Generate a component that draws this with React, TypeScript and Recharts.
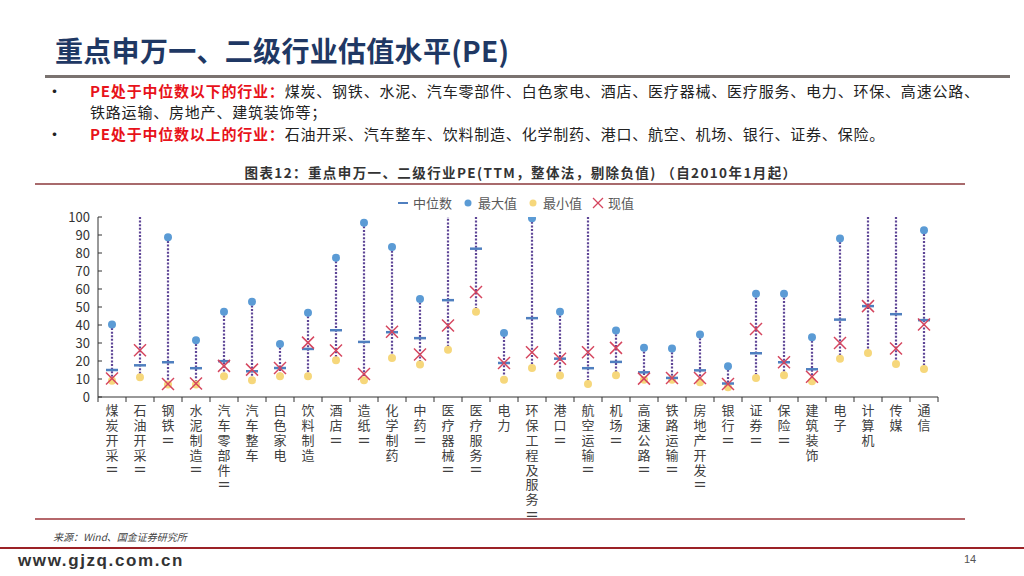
import React from 'react';
import { ComposedChart, Bar, Line, XAxis, YAxis } from 'recharts';

const industries = [
  '煤炭开采Ⅱ', '石油开采Ⅱ', '钢铁Ⅱ', '水泥制造Ⅱ', '汽车零部件Ⅱ', '汽车整车', '白色家电', '饮料制造',
  '酒店Ⅱ', '造纸Ⅱ', '化学制药', '中药Ⅱ', '医疗器械Ⅱ', '医疗服务Ⅱ', '电力', '环保工程及服务Ⅱ',
  '港口Ⅱ', '航空运输Ⅱ', '机场Ⅱ', '高速公路Ⅱ', '铁路运输Ⅱ', '房地产开发Ⅱ', '银行Ⅱ', '证券Ⅱ',
  '保险Ⅱ', '建筑装饰', '电子', '计算机', '传媒', '通信',
];
const medianPE = [15, 17.6, 19.3, 16, 19.9, 14.3, 16.1, 26.7, 37.1, 30.6, 36, 32.7, 53.8, 82.4, 18.9, 43.8, 21.3, 16, 19.5, 13.7, 10.6, 14.8, 7.5, 24.3, 19.3, 15.4, 43, 50.5, 46, 42.7];
const maxPE = [40.3, 150, 88.7, 31.5, 47.3, 52.9, 29.5, 46.8, 77.4, 96.8, 83.3, 54.5, 115, 130, 35.6, 99.3, 47.3, 120, 36.9, 27.3, 26.9, 34.7, 17.1, 57.3, 57.3, 33.2, 88.1, 170, 140, 92.6];
const minPE = [9, 11, 7, 7, 11.5, 9.3, 11.5, 11.5, 20.4, 9.3, 21.7, 18, 26.3, 47.3, 9.6, 16.1, 11.9, 7.2, 12.1, 9.6, 9.6, 8.2, 5.4, 10.6, 12.1, 8.7, 21.3, 24.5, 18.4, 15.6];
const currentPE = [10.3, 26, 7.2, 7.5, 17.3, 15.2, 16.1, 30.2, 25.8, 12.8, 36.2, 23.6, 39.7, 58.3, 18.9, 24.9, 21.3, 24.9, 27.3, 10.2, 10.6, 10.6, 7.2, 37.8, 19.3, 11.3, 30, 50.5, 26.9, 40.3];
const yTicks = [0, 10, 20, 30, 40, 50, 60, 70, 80, 90, 100];

const chartData = industries.map((name, i) => ({
  name,
  range: [minPE[i], maxPE[i]],
  median: medianPE[i],
  max: maxPE[i],
  min: minPE[i],
  current: currentPE[i],
}));

const FONT = '"Noto Sans CJK SC", "Noto Sans", sans-serif';
const BLUE = '#5B9BD5';
const YELLOW = '#F6D77B';
const RED = '#D5455E';
const DASH_BLUE = '#4F7FBF';
const STEP = 840 / industries.length;

const RangeLine = (props: any) => {
  const { x, y, width, height } = props;
  if (x == null || y == null) return null;
  const cx = x + width / 2;
  return (
    <line x1={cx} x2={cx} y1={y} y2={y + height} stroke="#5E4596" strokeWidth={2.2} strokeDasharray="2 1.6" />
  );
};

const MaxDot = (p: any) => (p.cx == null ? null : <circle key={p.index} cx={p.cx} cy={p.cy} r={4} fill={BLUE} />);
const MinDot = (p: any) => (p.cx == null ? null : <circle key={p.index} cx={p.cx} cy={p.cy} r={4} fill={YELLOW} />);
const MedianDot = (p: any) =>
  p.cx == null ? null : <line key={p.index} x1={p.cx - 6} x2={p.cx + 6} y1={p.cy} y2={p.cy} stroke={DASH_BLUE} strokeWidth={2.5} />;
const CurrentDot = (p: any) =>
  p.cx == null ? null : (
    <g key={p.index}>
      <line x1={p.cx - 6} y1={p.cy - 6} x2={p.cx + 6} y2={p.cy + 6} stroke={RED} strokeWidth={1.5} />
      <line x1={p.cx - 6} y1={p.cy + 6} x2={p.cx + 6} y2={p.cy - 6} stroke={RED} strokeWidth={1.5} />
    </g>
  );

const CategoryTick = (props: any) => {
  const { x, y, payload, index } = props;
  const label = String(payload.value);
  const parts = label.split('Ⅱ');
  return (
    <g>
      <line x1={x - STEP / 2} x2={x - STEP / 2} y1={y} y2={y + 5} stroke="#333" />
      {index === industries.length - 1 && <line x1={x + STEP / 2} x2={x + STEP / 2} y1={y} y2={y + 5} stroke="#333" />}
      <text
        x={x}
        y={y + 7}
        fontSize={13}
        fill="#404040"
        fontFamily={FONT}
        letterSpacing={1.8}
        style={{ writingMode: 'vertical-rl' } as any}
      >
        {parts[0]}
        {parts.length > 1 && <tspan style={{ textOrientation: 'sideways' } as any}>Ⅱ</tspan>}
      </text>
    </g>
  );
};

const ValueTick = (props: any) => {
  const { x, y, payload } = props;
  return (
    <g>
      <line x1={x + 8} x2={x + 12} y1={y} y2={y} stroke="#333" />
      <text x={x} y={y + 5} fontSize={13} fill="#333" textAnchor="end" fontFamily={FONT}>
        {payload.value}
      </text>
    </g>
  );
};

const legendItems = [
  { label: '中位数', kind: 'dash' },
  { label: '最大值', kind: 'max' },
  { label: '最小值', kind: 'min' },
  { label: '现值', kind: 'cur' },
];

const LegendIcon = ({ kind }: { kind: string }) => (
  <svg width={14} height={14} style={{ marginRight: 3 }}>
    {kind === 'dash' && <line x1={2} x2={12} y1={7} y2={7} stroke={DASH_BLUE} strokeWidth={2} />}
    {kind === 'max' && <circle cx={7} cy={7} r={3.5} fill={BLUE} />}
    {kind === 'min' && <circle cx={7} cy={7} r={3.5} fill={YELLOW} />}
    {kind === 'cur' && (
      <g stroke={RED} strokeWidth={1.2}>
        <line x1={2} y1={2} x2={12} y2={12} />
        <line x1={2} y1={12} x2={12} y2={2} />
      </g>
    )}
  </svg>
);

const bulletText: React.CSSProperties = { position: 'absolute', left: 90, fontSize: 15, lineHeight: '21px', color: '#222', letterSpacing: 0.8, whiteSpace: 'nowrap' };
const bulletDot: React.CSSProperties = { position: 'absolute', left: 46, fontSize: 17, lineHeight: '21px', color: '#222' };

export default function App() {
  return (
    <div style={{ position: 'absolute', left: 0, top: 0, width: 1024, height: 576, background: '#fff', fontFamily: FONT, overflow: 'hidden' }}>
      <div style={{ position: 'absolute', left: 55, top: 30, fontSize: 28, fontWeight: 700, color: '#1F3864', lineHeight: '40px', letterSpacing: 0.3 }}>
        重点申万一、二级行业估值水平(PE)
      </div>
      <div style={{ position: 'absolute', left: 45, top: 75, width: 965, height: 3, background: '#7A7370' }} />

      <div style={{ ...bulletDot, top: 80 }}>•</div>
      <div style={{ ...bulletText, top: 80 }}>
        <b style={{ color: '#E8121A' }}>PE处于中位数以下的行业：</b>
        煤炭、钢铁、水泥、汽车零部件、白色家电、酒店、医疗器械、医疗服务、电力、环保、高速公路、
      </div>
      <div style={{ ...bulletText, top: 101 }}>铁路运输、房地产、建筑装饰等；</div>
      <div style={{ ...bulletDot, top: 123 }}>•</div>
      <div style={{ ...bulletText, top: 123 }}>
        <b style={{ color: '#E8121A' }}>PE处于中位数以上的行业：</b>
        石油开采、汽车整车、饮料制造、化学制药、港口、航空、机场、银行、证券、保险。
      </div>

      <div style={{ position: 'absolute', left: 0, width: 1042, top: 162, textAlign: 'center', fontSize: 13.5, fontWeight: 700, color: '#333', letterSpacing: 1.4, lineHeight: '20px', whiteSpace: 'nowrap' }}>
        图表12：重点申万一、二级行业PE(TTM，整体法，剔除负值) （自2010年1月起）
      </div>
      <div style={{ position: 'absolute', left: 35, top: 183, width: 930, height: 1.5, background: '#A86A6C' }} />

      <div style={{ position: 'absolute', left: 396, top: 193, display: 'flex', alignItems: 'center', fontSize: 13, color: '#595959' }}>
        {legendItems.map((it) => (
          <span key={it.label} style={{ display: 'flex', alignItems: 'center', marginRight: 9 }}>
            <LegendIcon kind={it.kind} />
            {it.label}
          </span>
        ))}
      </div>

      <div style={{ position: 'absolute', left: 0, top: 200 }}>
        <ComposedChart width={1024} height={334} data={chartData} margin={{ top: 17, right: 86, bottom: 0, left: 40 }} barCategoryGap={0}>
          <XAxis dataKey="name" interval={0} height={137} tickLine={false} tickSize={0} tickMargin={0} tick={<CategoryTick />} stroke="#333" />
          <YAxis
            domain={[0, 100]}
            ticks={yTicks}
            interval={0}
            allowDataOverflow
            width={58}
            tickLine={false}
            tickSize={0}
            tickMargin={8}
            tick={<ValueTick />}
            stroke="#333"
          />
          <Bar dataKey="range" barSize={8} shape={<RangeLine />} isAnimationActive={false} />
          <Line dataKey="max" stroke="none" dot={MaxDot} activeDot={false} isAnimationActive={false} />
          <Line dataKey="min" stroke="none" dot={MinDot} activeDot={false} isAnimationActive={false} />
          <Line dataKey="median" stroke="none" dot={MedianDot} activeDot={false} isAnimationActive={false} />
          <Line dataKey="current" stroke="none" dot={CurrentDot} activeDot={false} isAnimationActive={false} />
        </ComposedChart>
      </div>

      <div style={{ position: 'absolute', left: 35, top: 518, width: 930, height: 1.5, background: '#B5676B' }} />
      <div style={{ position: 'absolute', left: 53, top: 529, fontSize: 10, fontStyle: 'italic', color: '#444' }}>
        来源：Wind、国金证券研究所
      </div>
      <div style={{ position: 'absolute', left: 0, top: 547, width: 1024, height: 2, background: '#9B2226' }} />
      <div style={{ position: 'absolute', left: 18, top: 551, fontSize: 17, fontWeight: 700, color: '#333', fontFamily: '"Liberation Sans", Arial, sans-serif', letterSpacing: 1.6 }}>
        www.gjzq.com.cn
      </div>
      <div style={{ position: 'absolute', left: 964, top: 553, fontSize: 11, color: '#555', fontFamily: '"Liberation Sans", Arial, sans-serif' }}>
        14
      </div>
    </div>
  );
}
